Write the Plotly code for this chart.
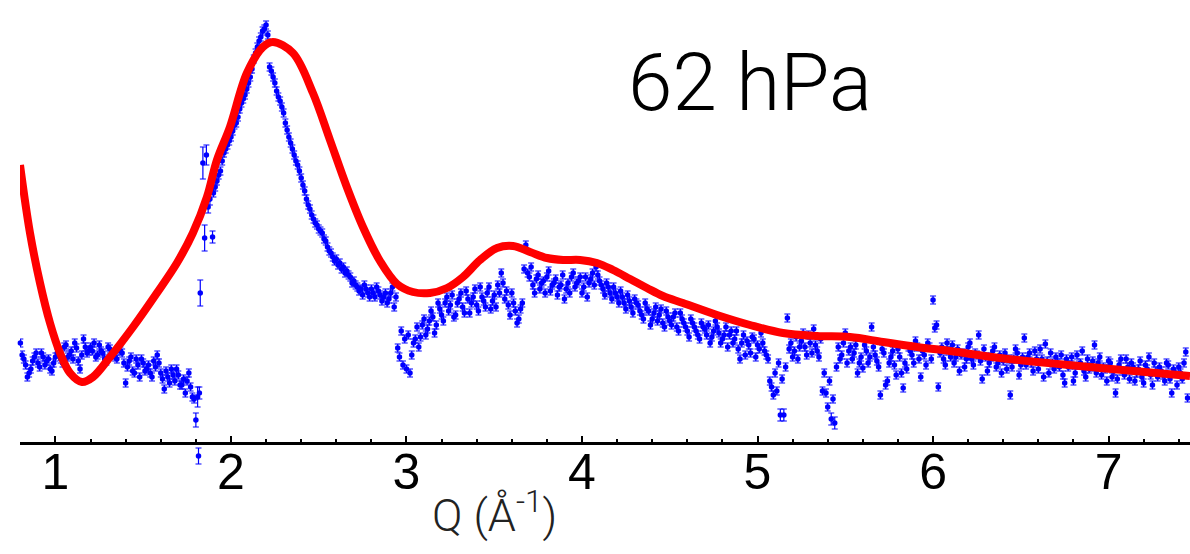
import plotly.graph_objects as go

# ---------------- measured data (Q in 1/Angstrom, intensity in arbitrary units) -------------
q_data = [
    0.80, 0.82, 0.84, 0.86, 0.88, 0.90, 0.92, 0.94, 0.96, 0.98,
    1.00, 1.02, 1.04, 1.06, 1.08, 1.10, 1.12, 1.14, 1.16, 1.18,
    1.20, 1.22, 1.24, 1.26, 1.28, 1.30, 1.32, 1.34, 1.36, 1.38,
    1.40, 1.42, 1.44, 1.46, 1.48, 1.50, 1.52, 1.54, 1.56, 1.58,
    1.60, 1.62, 1.64, 1.66, 1.68, 1.70, 1.72, 1.74, 1.76, 1.78,
    1.79, 1.80, 1.81, 1.815, 1.82, 1.825, 1.84, 1.85, 1.86, 1.87, 1.88, 1.895, 1.90,
    1.92, 1.94, 1.96, 1.98, 2.00, 2.02, 2.04, 2.06, 2.08, 2.10, 2.12, 2.14, 2.16, 2.18, 2.20,
    2.22, 2.24, 2.26, 2.28, 2.30, 2.32, 2.34, 2.36, 2.38, 2.40,
    2.42, 2.44, 2.46, 2.48, 2.50, 2.52, 2.54, 2.56, 2.58, 2.60,
    2.62, 2.64, 2.66, 2.68, 2.70, 2.72, 2.74, 2.76, 2.78, 2.80,
    2.82, 2.84, 2.86, 2.88, 2.90, 2.92, 2.93, 2.94,
    2.95, 2.96, 2.97, 2.98, 2.99, 3.00, 3.01, 3.02, 3.04, 3.06,
    3.08, 3.10, 3.12, 3.14, 3.16, 3.18, 3.20,
    3.22, 3.24, 3.26, 3.28, 3.30, 3.32, 3.34, 3.36, 3.38, 3.40,
    3.42, 3.44, 3.46, 3.48, 3.50, 3.52, 3.54, 3.56, 3.58, 3.60,
    3.62, 3.64, 3.66,
    3.67, 3.68, 3.70, 3.72, 3.74, 3.76, 3.78, 3.80, 3.82, 3.84,
    3.86, 3.88, 3.90, 3.92, 3.94, 3.96, 3.98, 4.00, 4.02, 4.04,
    4.06, 4.08, 4.10,
    4.12, 4.14, 4.16, 4.18, 4.20, 4.22, 4.24, 4.26, 4.28, 4.30,
    4.32, 4.34, 4.36, 4.38, 4.40, 4.42, 4.44, 4.46, 4.48, 4.50,
    4.52, 4.54, 4.56,
    4.58, 4.60, 4.62, 4.64, 4.66, 4.68, 4.70, 4.72, 4.74, 4.76,
    4.78, 4.80, 4.82, 4.84, 4.86, 4.88, 4.90, 4.92, 4.94, 4.96,
    4.98, 5.00, 5.02, 5.04,
    5.06, 5.07, 5.08, 5.09, 5.10, 5.11, 5.12, 5.13, 5.14, 5.15,
    5.16, 5.17, 5.18, 5.20, 5.22, 5.24, 5.26, 5.28, 5.30, 5.32,
    5.34, 5.36, 5.38, 5.39, 5.40, 5.41, 5.42, 5.43, 5.44, 5.45, 5.46,
    5.48, 5.50, 5.52, 5.54, 5.56, 5.58, 5.60, 5.62, 5.64, 5.65,
    5.66, 5.68, 5.70, 5.72, 5.73, 5.74, 5.76, 5.78, 5.80, 5.82,
    5.83, 5.84, 5.86, 5.88, 5.90, 5.92, 5.94, 5.96, 5.98, 6.00,
    6.01, 6.02, 6.03, 6.04, 6.06, 6.08, 6.10,
    6.12, 6.14, 6.16, 6.18, 6.20, 6.22, 6.24, 6.26, 6.28, 6.30,
    6.32, 6.34, 6.36, 6.38, 6.40, 6.42, 6.44, 6.46, 6.48, 6.50,
    6.52, 6.54, 6.56, 6.58, 6.60, 6.62, 6.64, 6.66, 6.68, 6.70,
    6.72, 6.74, 6.76, 6.78, 6.80, 6.82, 6.84, 6.86, 6.88, 6.90,
    6.92, 6.94, 6.96, 6.98, 7.00, 7.02, 7.04, 7.06, 7.08, 7.10,
    7.12, 7.14, 7.16, 7.18, 7.20, 7.22, 7.24, 7.26, 7.28, 7.30,
    7.32, 7.34, 7.36, 7.38, 7.40, 7.42, 7.44, 7.45,
]

i_data = [
    100, 84, 66, 74, 86, 80, 90, 78, 84, 72,
    86, 92, 80, 98, 88, 84, 95, 74, 104, 90,
    96, 100, 88, 92, 84, 96, 90, 86, 94, 90,
    60, 82, 72, 84, 66, 80, 74, 70, 82, 88,
    70, 54, 66, 74, 62, 68, 58, 50, 70, 46,
    44, 23, 46, -13, 50, 150, 280, 205, 288, 236, 244, 206, 250,
    262, 272, 290, 298, 306, 318, 326, 340, 348, 360, 374, 390, 402, 412, 418,
    376, 366, 352, 342, 330, 313, 300, 288, 278, 265,
    252, 238, 228, 220, 214, 210, 202, 192, 186, 184,
    180, 176, 172, 166, 162, 156, 154, 158, 150, 154,
    146, 152, 142, 150, 144, 156, 136, 146,
    95, 86, 112, 78, 104, 74, 108, 70, 100, 116,
    106, 124, 114, 132, 110, 140, 128,
    140, 132, 148, 128, 144, 136, 152, 130, 146, 138,
    156, 142, 150, 134, 148, 158, 170, 144, 138, 150,
    132, 124, 140,
    174, 198, 166, 158, 164, 154, 162, 166, 152, 160,
    148, 158, 144, 160, 166, 156, 162, 150, 166, 160,
    170, 176, 162,
    154, 160, 150, 156, 146, 152, 140, 148, 136, 144,
    138, 128, 140, 132, 124, 136, 128, 120, 132, 122,
    126, 116, 130,
    120, 112, 124, 116, 108, 120, 114, 118, 106, 122,
    110, 104, 116, 108, 100, 112, 84, 108, 102, 90,
    104, 98, 110, 92,
    84, 62, 56, 48, 70, 52, 80, 28, 64, 28,
    76, 125, 94, 86, 106, 96, 110, 88, 100, 114,
    92, 104, 70, 50, 36, 62, 24, 44, 20, 76, 96,
    88, 110, 92, 84, 98, 80, 75, 92, 86, 116,
    96, 82, 48, 90, 58, 62, 86, 78, 94, 70,
    55, 80, 96, 88, 102, 84, 92, 78, 96, 143,
    115, 118, 56, 90, 84, 100, 86,
    80, 94, 88, 76, 96, 84, 90, 108, 64, 86,
    80, 92, 76, 88, 82, 74, 48, 84, 90, 78,
    105, 86, 80, 92, 74, 84, 99, 70, 80, 86,
    76, 68, 84, 78, 62, 88, 80, 72, 84, 76,
    98, 80, 68, 74, 82, 66, 50, 78, 72, 84,
    64, 76, 70, 82, 60, 74, 68, 80, 66, 72,
    62, 78, 50, 70, 76, 64, 91, 45,
]

# interleaved measurements (odd hundredths of Q)
q_extra = [
    0.81, 0.83, 0.85, 0.87, 0.89, 0.91, 0.93, 0.95, 0.97, 0.99,
    1.01, 1.03, 1.05, 1.07, 1.09, 1.11, 1.13, 1.15, 1.17, 1.19,
    1.21, 1.23, 1.25, 1.27, 1.29, 1.31, 1.33, 1.35, 1.37, 1.39,
    1.41, 1.43, 1.45, 1.47, 1.49, 1.51, 1.53, 1.55, 1.57, 1.59,
    1.61, 1.63, 1.65, 1.67, 1.69, 1.71, 1.73, 1.75, 1.77,
    1.91, 1.93, 1.95, 1.97, 1.99, 2.01, 2.03, 2.05, 2.07, 2.09,
    2.11, 2.13, 2.15, 2.17, 2.19, 2.21,
    2.23, 2.25, 2.27, 2.29, 2.31, 2.33, 2.35, 2.37, 2.39, 2.41,
    2.43, 2.45, 2.47, 2.49, 2.51, 2.53, 2.55, 2.57, 2.59, 2.61,
    2.63, 2.65, 2.67, 2.69, 2.71, 2.73, 2.75, 2.77, 2.79, 2.81,
    2.83, 2.85, 2.87, 2.89, 2.91,
    3.03, 3.05, 3.07, 3.09, 3.11, 3.13, 3.15, 3.17, 3.19, 3.21,
    3.23, 3.25, 3.27, 3.29, 3.31, 3.33, 3.35, 3.37, 3.39, 3.41,
    3.43, 3.45, 3.47, 3.49, 3.51, 3.53, 3.55, 3.57, 3.59, 3.61,
    3.63, 3.65,
    3.69, 3.71, 3.73, 3.75, 3.77, 3.79, 3.81, 3.83, 3.85, 3.87,
    3.89, 3.91, 3.93, 3.95, 3.97, 3.99, 4.01, 4.03, 4.05, 4.07,
    4.09, 4.11,
    4.13, 4.15, 4.17, 4.19, 4.21, 4.23, 4.25, 4.27, 4.29, 4.31,
    4.33, 4.35, 4.37, 4.39, 4.41, 4.43, 4.45, 4.47, 4.49, 4.51,
    4.53, 4.55,
    4.57, 4.59, 4.61, 4.63, 4.65, 4.67, 4.69, 4.71, 4.73, 4.75,
    4.77, 4.79, 4.81, 4.83, 4.85, 4.87, 4.89, 4.91, 4.93, 4.95,
    4.97, 4.99, 5.01, 5.03, 5.05,
    5.19, 5.21, 5.23, 5.25, 5.27, 5.29, 5.31, 5.33, 5.35, 5.37,
    5.47, 5.49, 5.51, 5.53, 5.55, 5.57, 5.59, 5.61, 5.63, 5.67,
    5.69, 5.71, 5.75, 5.77, 5.79, 5.81, 5.85, 5.87, 5.89, 5.91,
    5.93, 5.95, 5.97, 5.99,
    6.05, 6.07, 6.09, 6.11, 6.13, 6.15, 6.17, 6.19, 6.21, 6.23,
    6.25, 6.27, 6.29, 6.31, 6.33, 6.35, 6.37, 6.39, 6.41, 6.43,
    6.45, 6.47, 6.49, 6.51, 6.53, 6.55, 6.57, 6.59, 6.61, 6.63,
    6.65, 6.67, 6.69, 6.71, 6.73, 6.75, 6.77, 6.79, 6.81, 6.83,
    6.85, 6.87, 6.89, 6.91, 6.93, 6.95, 6.97, 6.99, 7.01, 7.03,
    7.05, 7.07, 7.09, 7.11, 7.13, 7.15, 7.17, 7.19, 7.21, 7.23,
    7.25, 7.27, 7.29, 7.31, 7.33, 7.35, 7.37, 7.39, 7.41, 7.43,
]

i_extra = [
    88, 78, 70, 82, 90, 76, 86, 82, 74, 80,
    90, 84, 96, 86, 92, 100, 82, 88, 96, 92,
    92, 86, 98, 90, 82, 94, 88, 84, 92, 80,
    76, 86, 70, 78, 84, 72, 78, 66, 76, 80,
    64, 72, 60, 68, 74, 58, 64, 62, 56,
    256, 268, 282, 294, 302, 312, 320, 334, 344, 354,
    366, 384, 396, 406, 414, 408,
    372, 360, 346, 336, 320, 306, 294, 282, 272, 258,
    244, 234, 224, 218, 212, 204, 196, 190, 182, 178,
    174, 170, 168, 160, 158, 152, 148, 154, 146, 150,
    156, 148, 146, 140, 150,
    88, 104, 96, 118, 108, 122, 126, 118, 134, 122,
    146, 138, 126, 140, 150, 130, 144, 140, 154, 132,
    146, 136, 156, 142, 136, 150, 160, 152, 128, 140,
    120, 134,
    170, 176, 150, 168, 160, 150, 172, 158, 164, 156,
    168, 154, 150, 170, 160, 166, 156, 146, 164, 158,
    168, 158,
    148, 156, 144, 150, 140, 146, 134, 142, 130, 140,
    132, 124, 134, 118, 130, 122, 134, 116, 126, 118,
    130, 112,
    124, 116, 106, 120, 112, 104, 116, 108, 100, 112,
    116, 100, 108, 96, 112, 104, 94, 100, 88, 98,
    106, 86, 94, 100, 88,
    100, 92, 84, 102, 96, 108, 90, 98, 86, 52,
    84, 100, 80, 96, 90, 70, 86, 98, 80, 88,
    76, 94, 80, 92, 68, 86, 74, 92, 80, 96,
    66, 88, 100, 84,
    96, 78, 92, 98, 86, 72, 90, 84, 100, 78,
    88, 82, 94, 72, 86, 96, 80, 70, 90, 84,
    76, 94, 68, 86, 78, 90, 72, 84, 94, 66,
    82, 90, 74, 80, 88, 60, 76, 86, 70, 78,
    92, 66, 74, 82, 70, 86, 76, 62, 80, 72,
    64, 84, 68, 76, 80, 62, 74, 66, 78, 86,
    58, 72, 76, 68, 80, 64, 74, 58, 70, 80,
]

# error bars: most points share the same uncertainty, a few have larger ones
err_default = 4
err_large = {1.80: 7, 1.81: 10, 1.815: 8, 1.82: 6, 1.825: 13, 1.84: 16, 1.85: 13,
             1.86: 10, 1.87: 6, 1.88: 6, 1.895: 6, 5.13: 6, 5.15: 6, 5.42: 6, 5.44: 6}

# ---------------- model curve ----------------
q_fit = [0.798, 0.855, 0.912, 0.969, 1.026, 1.083, 1.151, 1.214, 1.311, 1.442,
         1.578, 1.692, 1.783, 1.863, 1.920, 1.994, 2.091, 2.182, 2.239, 2.353,
         2.467, 2.564, 2.660, 2.752, 2.849, 2.946, 3.037, 3.134, 3.231, 3.322,
         3.419, 3.516, 3.607, 3.704, 3.801, 3.892, 3.989, 4.085, 4.177, 4.274,
         4.370, 4.461, 4.575, 4.769, 4.957, 5.145, 5.339, 5.527, 5.715, 5.909,
         6.097, 6.382, 6.952, 7.464]
i_fit = [278, 210, 160, 120, 90, 70, 61, 66, 86, 116,
         150, 180, 210, 246, 283, 316, 370, 396, 401, 390,
         350, 303, 256, 216, 182, 159, 151, 150, 155, 166,
         183, 195, 197, 191, 185, 183, 183, 180, 173, 164,
         155, 147, 140, 128, 118, 110, 107, 106, 101, 96,
         92, 85, 75, 67]

x_ticks = [1, 2, 3, 4, 5, 6, 7]
x_ticklabels = ["1", "2", "3", "4", "5", "6", "7"]
label_text = "62 hPa"
x_title = "Q (Å<sup>-1</sup>)"

q_all = q_data + q_extra
i_all = i_data + i_extra
err = [err_large.get(q, err_default) for q in q_all]

fig = go.Figure()
fig.add_trace(go.Scatter(
    x=q_all, y=i_all, mode="markers",
    marker=dict(color="#0000ff", size=5.5),
    error_y=dict(type="data", array=err, visible=True, color="#0000ff",
                 thickness=1.2, width=3),
    cliponaxis=False, showlegend=False, hoverinfo="skip",
))
fig.add_trace(go.Scatter(
    x=q_fit, y=i_fit, mode="lines",
    line=dict(color="#ff0000", width=8, shape="spline", smoothing=1.0),
    showlegend=False, hoverinfo="skip",
))

PLOT_H = 480
fig.update_layout(
    width=1190, height=554,
    margin=dict(l=20, r=0, t=0, b=554 - PLOT_H, pad=0),
    paper_bgcolor="white", plot_bgcolor="white",
    xaxis=dict(
        range=[0.798, 7.464], showgrid=False, zeroline=False,
        showline=True, linecolor="black", linewidth=2.5,
        anchor="free", position=37 / PLOT_H,
        tickmode="array", tickvals=x_ticks, ticktext=x_ticklabels,
        ticks="inside", ticklen=6, tickwidth=2, tickcolor="black",
        ticklabelstandoff=-16,
        tickfont=dict(family="Liberation Sans, Arial, sans-serif", size=50, color="black"),
        minor=dict(ticks="inside", dtick=0.2, tick0=0.8, ticklen=3.5, tickwidth=2,
                   tickcolor="black", showgrid=False),
    ),
    yaxis=dict(range=[-37, 443], visible=False, showgrid=False, zeroline=False),
    annotations=[
        dict(x=4.957, y=360, xref="x", yref="y", text=label_text, showarrow=False,
             xanchor="center", yanchor="middle",
             font=dict(family="Roboto, Helvetica Neue, sans-serif", size=80,
                       color="black", weight=300)),
        dict(x=3.5, y=-32 / PLOT_H, xref="x", yref="paper", text=x_title, showarrow=False,
             xanchor="center", yanchor="middle",
             font=dict(family="Roboto, Helvetica Neue, sans-serif", size=45,
                       color="#222222", weight=300)),
    ],
)

fig.write_html("out.html")
